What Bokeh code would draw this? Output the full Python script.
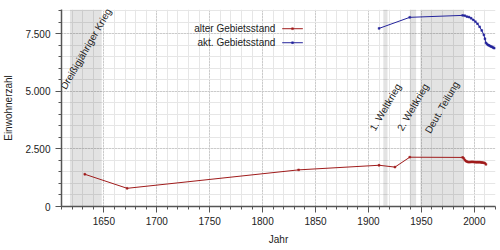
import numpy as np
from bokeh.plotting import figure
from bokeh.models import (BoxAnnotation, FixedTicker, CustomJSTickFormatter, Range1d, Label)
from bokeh.embed import file_html
from bokeh.resources import INLINE

# ---- data ----
alt_years = [1632, 1672, 1834, 1910, 1925, 1939, 1989, 1990, 1991, 1992, 1993, 1994, 1995,
             1996, 1997, 1998, 1999, 2000, 2001, 2002, 2003, 2004, 2005, 2006, 2007, 2008,
             2009, 2010, 2011]
alt_values = [1400, 790, 1590, 1790, 1710, 2140, 2130, 2090, 2020, 1970, 1950, 1930, 1925,
              1930, 1935, 1940, 1935, 1930, 1925, 1920, 1925, 1920, 1925, 1915, 1910, 1905,
              1895, 1880, 1830]
akt_years = [1910, 1939, 1989, 1991, 1993, 1995, 1997, 1999, 2001, 2003, 2005, 2007, 2009,
             2010, 2011, 2012, 2013, 2014, 2015, 2016, 2017, 2018, 2019]
akt_values = [7730, 8210, 8295, 8280, 8240, 8220, 8170, 8100, 8020, 7930, 7800, 7640, 7450,
              7280, 7100, 7050, 7010, 6990, 6960, 6940, 6920, 6890, 6870]

event_names = ["Dreißigjähriger Krieg", "1. Weltkrieg", "2. Weltkrieg", "Deut. Teilung"]
event_start = [1618, 1914, 1939, 1949]
event_end = [1648, 1918, 1945, 1990]
event_label_y = [6840, 4310, 4310, 4310]

series_names = ["alter Gebietsstand", "akt. Gebietsstand"]
series_colors = ["#a01c1c", "#24249c"]

x_lo, x_hi = 1610, 2020
y_lo, y_hi = 0, 8550

FONT = "Liberation Sans"

p = figure(width=500, height=250, output_backend="svg", toolbar_location=None,
           x_range=Range1d(x_lo, x_hi), y_range=Range1d(y_lo, y_hi),
           min_border_left=61, min_border_right=5, min_border_top=9, min_border_bottom=44)
p.outline_line_color = None
p.background_fill_color = "white"
p.border_fill_color = "white"

# shaded events
for s, e in zip(event_start, event_end):
    p.add_layout(BoxAnnotation(left=s, right=e, fill_color="black", fill_alpha=0.11,
                               line_color=None, level="underlay"))

# ticks
xt_major = list(range(1650, 2001, 50))
xt_minor = list(range(1610, 2021, 10))
yt_major = list(range(0, 8000, 2500))
yt_minor = list(range(0, 8501, 500))
p.xaxis.ticker = FixedTicker(ticks=xt_major, minor_ticks=xt_minor)
p.yaxis.ticker = FixedTicker(ticks=yt_major, minor_ticks=yt_minor)
p.yaxis.formatter = CustomJSTickFormatter(
    code="return tick.toFixed(0).replace(/\\B(?=(\\d{3})+(?!\\d))/g, '.');")

for ax in (p.xaxis, p.yaxis):
    ax.axis_line_color = "#555555"
    ax.axis_line_width = 1.5
    ax.major_tick_line_color = "#555555"
    ax.minor_tick_line_color = "#555555"
    ax.major_tick_out = 6
    ax.major_tick_in = 0
    ax.minor_tick_out = 3
    ax.minor_tick_in = 0
    ax.major_label_text_font = FONT
    ax.major_label_text_font_size = "10px"
    ax.major_label_text_color = "#222222"
    ax.axis_label_text_font = FONT
    ax.axis_label_text_font_size = "10px"
    ax.axis_label_text_font_style = "normal"
    ax.axis_label_text_color = "#222222"
p.xaxis.major_label_standoff = 4
p.yaxis.major_label_standoff = 5
p.xaxis.axis_label = "Jahr"
p.yaxis.axis_label = "Einwohnerzahl"
p.xaxis.axis_label_standoff = 6
p.yaxis.axis_label_standoff = 8

# grids
for g in (p.xgrid, p.ygrid):
    g.grid_line_color = "#b0b0b0"
    g.grid_line_dash = "1 2"
    g.grid_line_width = 1
    g.minor_grid_line_color = "#e6e6e6"
    g.minor_grid_line_width = 1
    g.level = "underlay"

# event labels
for name, s, e, yv in zip(event_names, event_start, event_end, event_label_y):
    p.add_layout(Label(x=(s + e) / 2, y=yv, text=name, angle=np.pi / 3,
                       text_align="center", text_baseline="middle",
                       text_font=FONT, text_font_size="10px", text_color="#222222"))

# series
for yrs, vals, col in [(alt_years, alt_values, series_colors[0]),
                       (akt_years, akt_values, series_colors[1])]:
    p.line(yrs, vals, line_color=col, line_width=1)
    p.scatter(yrs, vals, marker="square", size=1.8, fill_color=col, line_color=col,
              line_width=0.5)

# manual legend (label left, sample right)
leg_x_text = 1812
leg_x0, leg_x1 = 1818.5, 1838
leg_y = [7716, 7108]
for name, col, yv in zip(series_names, series_colors, leg_y):
    p.add_layout(Label(x=leg_x_text, y=yv, text=name, text_align="right",
                       text_baseline="middle", text_font=FONT,
                       text_font_size="10px", text_color="#222222"))
    p.line([leg_x0, leg_x1], [yv, yv], line_color=col, line_width=1)
    p.scatter([(leg_x0 + leg_x1) / 2], [yv], marker="square", size=1.8,
              fill_color=col, line_color=col, line_width=0.5)

open("out.html", "w").write(file_html(p, INLINE))
